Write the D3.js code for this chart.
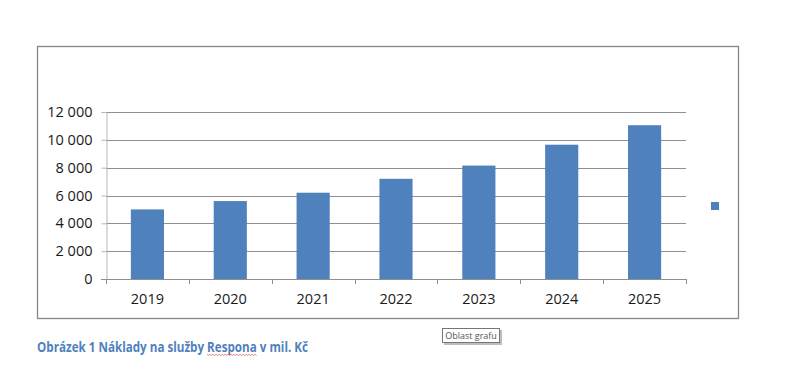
<!DOCTYPE html>
<html><head><meta charset="utf-8">
<script src="https://cdn.jsdelivr.net/npm/d3@7"></script>
<style>
html,body{margin:0;padding:0;background:#fff;}
svg{display:block;}
</style></head>
<body>
<svg id="chart" width="800" height="366"></svg>
<script>
const years = ["2019","2020","2021","2022","2023","2024","2025"];
const costs = [5000, 5600, 6200, 7200, 8150, 9650, 11050];
const yTicks = [0, 2000, 4000, 6000, 8000, 10000, 12000];
const captionText = "Obrázek 1 Náklady na služby Respona v mil. Kč";
const tooltipText = "Oblast grafu";

const svg = d3.select("#chart");
const font = "'Open Sans', 'DejaVu Sans', sans-serif";

// chart frame
svg.append("rect").attr("x", 37.5).attr("y", 46.5).attr("width", 701).attr("height", 272)
  .attr("fill", "#fff").attr("stroke", "#878787").attr("stroke-width", 1.3);

const plot = {left: 106, right: 686, top: 112, bottom: 279};
const x = d3.scaleBand().domain(years).range([plot.left, plot.right]).paddingInner(0.6).paddingOuter(0.3);
const y = d3.scaleLinear().domain([0, 12000]).range([plot.bottom, plot.top]);

// gridlines
svg.append("g").selectAll("line").data(yTicks.filter(d => d > 0)).join("line")
  .attr("x1", plot.left).attr("x2", plot.right)
  .attr("y1", d => Math.round(y(d)) + 0.5).attr("y2", d => Math.round(y(d)) + 0.5)
  .attr("stroke", "#8f8f8f").attr("stroke-width", 1);

// bars
svg.append("g").selectAll("rect").data(years).join("rect")
  .attr("x", d => x(d)).attr("width", x.bandwidth())
  .attr("y", (d, i) => y(costs[i])).attr("height", (d, i) => y(0) - y(costs[i]))
  .attr("fill", "#4f81bd");

// y axis
const fmt = d => d3.format(",")(d).replace(/,/g, " ");
const yAxis = svg.append("g").attr("transform", `translate(${plot.left + 0.5},0)`)
  .call(d3.axisLeft(y).tickValues(yTicks).tickSize(5).tickPadding(9).tickFormat(fmt));
yAxis.select(".domain").attr("stroke", "#b8b8b8");
yAxis.selectAll(".tick line").attr("stroke", "#b8b8b8");
yAxis.selectAll("text").attr("font-family", font).attr("font-size", "14.5px").attr("fill", "#1a1a1a");

// x axis (ticks at category boundaries)
const step = x.step();
const bounds = years.map(d => x(d) - x.paddingInner() * step / 2).concat([plot.right]);
const xg = svg.append("g");
xg.append("line").attr("x1", plot.left - 5).attr("x2", plot.right)
  .attr("y1", y(0) + 0.5).attr("y2", y(0) + 0.5).attr("stroke", "#8f8f8f");
xg.selectAll("line.tk").data(bounds).join("line").attr("class", "tk")
  .attr("x1", d => Math.round(d) + 0.5).attr("x2", d => Math.round(d) + 0.5)
  .attr("y1", y(0)).attr("y2", y(0) + 5).attr("stroke", "#8f8f8f");
xg.selectAll("text").data(years).join("text")
  .attr("x", d => x(d) + x.bandwidth() / 2).attr("y", y(0) + 25)
  .attr("text-anchor", "middle").attr("font-family", font).attr("font-size", "14.5px")
  .attr("fill", "#1a1a1a").text(d => d);

// legend marker (series has no name)
svg.append("rect").attr("x", 711).attr("y", 202).attr("width", 8).attr("height", 8).attr("fill", "#4f81bd");

// caption
const cap = svg.append("text").attr("x", 37).attr("y", 352)
  .attr("font-family", font).attr("font-weight", "bold").attr("font-size", "13.5px")
  .attr("fill", "#4f81bd").text(captionText)
  .attr("textLength", 271).attr("lengthAdjust", "spacingAndGlyphs");
// red squiggle under "Respona"
const nodeCap = cap.node();
const startIdx = captionText.indexOf("Respona");
let sx = 206, ex = 258;
try {
  const s = nodeCap.getStartPositionOfChar(startIdx);
  const e = nodeCap.getEndPositionOfChar(startIdx + "Respona".length - 1);
  sx = s.x; ex = e.x;
} catch (err) {}
const wave = [];
for (let px = sx, k = 0; px <= ex; px += 1.5, k++) wave.push([px, 354.5 + (k % 2 ? 1 : -0.2)]);
svg.append("path").attr("d", d3.line()(wave)).attr("fill", "none").attr("stroke", "#e06060").attr("stroke-width", 0.8);

// tooltip box
const tip = svg.append("g").attr("transform", "translate(442,328)");
tip.append("rect").attr("x", 2).attr("y", 2).attr("width", 58).attr("height", 15).attr("fill", "#bdbdbd");
tip.append("rect").attr("x", 0.5).attr("y", 0.5).attr("width", 57).attr("height", 14)
  .attr("fill", "#fff").attr("stroke", "#767676");
tip.append("text").attr("x", 29).attr("y", 11).attr("text-anchor", "middle")
  .attr("font-family", font).attr("font-size", "9px").attr("fill", "#555").text(tooltipText);
</script>
</body></html>
